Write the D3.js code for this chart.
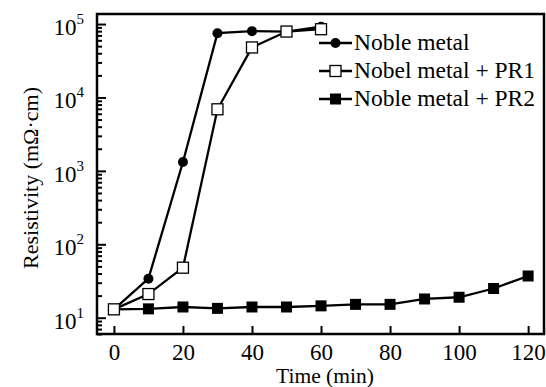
<!DOCTYPE html>
<html>
<head>
<meta charset="utf-8">
<script src="https://cdn.jsdelivr.net/npm/d3@7"></script>
<style>
  body { margin: 0; background: #fff; }
  svg { display: block; font-family: "Liberation Serif", "Times New Roman", serif; }
</style>
</head>
<body>
<svg id="chart" width="546" height="387"></svg>
<script>
// data
var times = [0, 10, 20, 30, 40, 50, 60, 70, 80, 90, 100, 110, 120];
var nobleMetal = [13, 34, 1320, 75000, 80000, 79000, 92000];
var nobelPR1 = [13, 21, 48, 6900, 48000, 79000, 85000];
var noblePR2 = [13, 13.2, 14, 13.4, 14, 14, 14.5, 15.2, 15.2, 18, 19, 25, 37];
var xTicks = [0, 20, 40, 60, 80, 100, 120];
var yMajor = [1e1, 1e2, 1e3, 1e4, 1e5];
var legendLabels = ["Noble metal", "Nobel metal + PR1", "Noble metal + PR2"];

var svg = d3.select("#chart");
var margin = {top: 14, right: 2, bottom: 53, left: 97};
var W = 546, H = 387;
var width = W - margin.left - margin.right;
var height = H - margin.top - margin.bottom;

var g = svg.append("g")
    .attr("transform", "translate(" + margin.left + "," + margin.top + ")");

var x = d3.scaleLinear().domain([-4.9, 124.6]).range([0, width]);
var y = d3.scaleLog().domain([6, 1.37e5]).range([height, 0]);

// minor ticks
var yMinor = [];
[1, 10, 100, 1000, 10000].forEach(function(d) {
  for (var k = 2; k <= 9; k++) yMinor.push(d * k);
});
yMinor = yMinor.filter(function(v) { return v >= 6 && v <= 1.37e5; });

// y axis
var yAxis = d3.axisLeft(y).tickValues(yMajor).tickSize(-9).tickFormat("");
var ya = g.append("g").call(yAxis);
var yAxisMinor = d3.axisLeft(y).tickValues(yMinor).tickSize(-5).tickFormat("");
var yb = g.append("g").call(yAxisMinor);
[ya, yb].forEach(function(a) {
  a.select(".domain").remove();
  a.selectAll(".tick line").attr("stroke", "#000").attr("stroke-width", 2);
});

// y tick labels 10^n
yMajor.forEach(function(v) {
  var t = g.append("text")
      .attr("x", -13)
      .attr("y", y(v) + 11)
      .attr("text-anchor", "end")
      .attr("font-size", 23);
  t.append("tspan").text("10");
  t.append("tspan").attr("dy", -11).attr("font-size", 15).text(Math.round(Math.log10(v)));
});

// x axis
var xAxis = d3.axisBottom(x).tickValues(xTicks).tickSize(-8).tickPadding(10);
var xa = g.append("g").attr("transform", "translate(0," + height + ")").call(xAxis);
xa.select(".domain").remove();
xa.selectAll(".tick line").attr("stroke", "#000").attr("stroke-width", 2);
xa.selectAll(".tick text")
    .attr("font-size", 23)
    .attr("font-family", "Liberation Serif, serif")
    .attr("fill", "#000");

// frame
g.append("rect")
    .attr("x", 0).attr("y", 0)
    .attr("width", width).attr("height", height)
    .attr("fill", "none").attr("stroke", "#000").attr("stroke-width", 2.5);

// axis titles
svg.append("text")
    .attr("x", 325)
    .attr("y", H - 4)
    .attr("text-anchor", "middle")
    .attr("font-size", 21.5)
    .text("Time (min)");
svg.append("text")
    .attr("transform", "translate(38," + (margin.top + height / 2 + 4) + ") rotate(-90)")
    .attr("text-anchor", "middle")
    .attr("font-size", 22)
    .text("Resistivity (m\u03A9\u00B7cm)");

// series
var line = d3.line()
    .x(function(d) { return x(d[0]); })
    .y(function(d) { return y(d[1]); });

function pairs(vals) {
  return vals.map(function(v, i) { return [times[i], v]; });
}

var series = [
  {data: pairs(noblePR2), marker: "fsquare"},
  {data: pairs(nobleMetal), marker: "circle"},
  {data: pairs(nobelPR1), marker: "osquare"}
];

function drawMarker(sel, type, cx, cy) {
  if (type === "circle") {
    sel.append("circle").attr("cx", cx).attr("cy", cy).attr("r", 5).attr("fill", "#000");
  } else if (type === "fsquare") {
    sel.append("rect").attr("x", cx - 5.5).attr("y", cy - 5.5)
        .attr("width", 11).attr("height", 11).attr("fill", "#000");
  } else {
    sel.append("rect").attr("x", cx - 5.5).attr("y", cy - 5.5)
        .attr("width", 11).attr("height", 11)
        .attr("fill", "#fff").attr("stroke", "#000").attr("stroke-width", 1.3);
  }
}

series.forEach(function(s) {
  g.append("path")
      .datum(s.data)
      .attr("d", line)
      .attr("fill", "none")
      .attr("stroke", "#000")
      .attr("stroke-width", 2.3);
});
series.forEach(function(s) {
  var mg = g.append("g");
  s.data.forEach(function(d) { drawMarker(mg, s.marker, x(d[0]), y(d[1])); });
});

// legend
var legendTypes = ["circle", "osquare", "fsquare"];
var lg = svg.append("g");
legendLabels.forEach(function(lab, i) {
  var ly = 43 + i * 28;
  lg.append("line")
      .attr("x1", 319).attr("x2", 352)
      .attr("y1", ly).attr("y2", ly)
      .attr("stroke", "#000").attr("stroke-width", 2.3);
  drawMarker(lg, legendTypes[i], 335.5, ly);
  lg.append("text")
      .attr("x", 354)
      .attr("y", ly + 7)
      .attr("font-size", 23.5)
      .text(lab);
});
</script>
</body>
</html>
